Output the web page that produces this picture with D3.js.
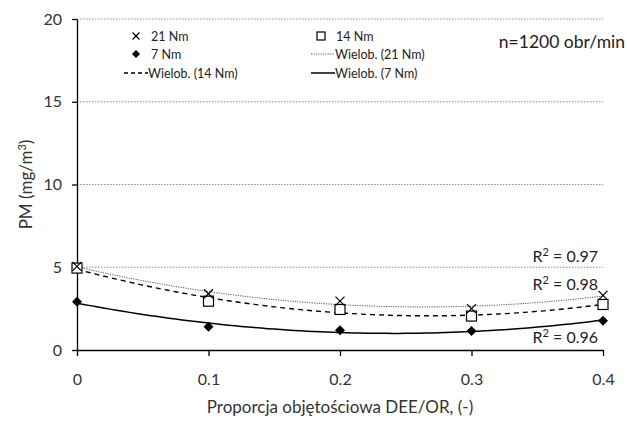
<!DOCTYPE html>
<html>
<head>
<meta charset="utf-8">
<script src="https://cdn.jsdelivr.net/npm/d3@7"></script>
<style>
  body { margin: 0; background: #fff; }
  svg { display: block; font-family: Lato, "Open Sans", sans-serif; }
</style>
</head>
<body>
<div id="chart"></div>
<script>
// dane
const proportions = [0, 0.1, 0.2, 0.3, 0.4];
const pm21 = [5.05, 3.4, 2.95, 2.5, 3.3];
const pm14 = [4.95, 2.95, 2.45, 2.05, 2.75];
const pm7 = [2.92, 1.4, 1.2, 1.15, 1.77];
const r2Labels = ['0.97', '0.98', '0.96'];
const xTicks = [0, 0.1, 0.2, 0.3, 0.4];
const yTicks = [0, 5, 10, 15, 20];

const width = 627;
const height = 423;
const margin = { top: 19, right: 24, bottom: 73, left: 77 };

const svg = d3.select('#chart').append('svg')
  .attr('width', width)
  .attr('height', height);

const xScale = d3.scaleLinear().domain([0, 0.4]).range([margin.left, width - margin.right]);
const yScale = d3.scaleLinear().domain([0, 20]).range([height - margin.bottom, margin.top]);

// linie siatki
svg.append('g')
  .selectAll('line')
  .data(yTicks.filter(d => d > 0))
  .join('line')
  .attr('x1', xScale(0))
  .attr('x2', xScale(0.4))
  .attr('y1', d => yScale(d))
  .attr('y2', d => yScale(d))
  .attr('stroke', '#8c8c8c')
  .attr('stroke-width', 1)
  .attr('stroke-dasharray', '1.5,1.5');

// osie
const axisX = svg.append('g')
  .attr('transform', 'translate(0,' + yScale(0) + ')')
  .call(d3.axisBottom(xScale).tickValues(xTicks).tickSize(6).tickSizeOuter(0).tickFormat(d => d === 0 ? '0' : d3.format('.1f')(d)));
const axisY = svg.append('g')
  .attr('transform', 'translate(' + xScale(0) + ',0)')
  .call(d3.axisLeft(yScale).tickValues(yTicks).tickSize(5).tickSizeOuter(0));

[axisX, axisY].forEach(function (g) {
  g.select('.domain').attr('stroke', '#000').attr('stroke-width', 1.3);
  g.selectAll('.tick line').attr('stroke', '#000').attr('stroke-width', 1.3);
  g.selectAll('.tick text')
    .attr('fill', '#333')
    .style('font-size', '16px')
    .style('font-family', 'Lato, "Open Sans", sans-serif');
});
axisX.selectAll('.tick text').attr('dy', '1.6em');
axisY.selectAll('.tick text').attr('x', -15);

// dopasowanie wielomianu 2 stopnia (metoda najmniejszych kwadratów)
function polyFit(xs, ys) {
  let s = [0, 0, 0, 0, 0];
  let t = [0, 0, 0];
  xs.forEach(function (x, i) {
    for (let k = 0; k < 5; k++) s[k] += Math.pow(x, k);
    for (let k = 0; k < 3; k++) t[k] += Math.pow(x, k) * ys[i];
  });
  const m = [
    [s[0], s[1], s[2], t[0]],
    [s[1], s[2], s[3], t[1]],
    [s[2], s[3], s[4], t[2]]
  ];
  for (let i = 0; i < 3; i++) {
    for (let j = i + 1; j < 3; j++) {
      const f = m[j][i] / m[i][i];
      for (let k = i; k < 4; k++) m[j][k] -= f * m[i][k];
    }
  }
  const c = [0, 0, 0];
  for (let i = 2; i >= 0; i--) {
    let v = m[i][3];
    for (let k = i + 1; k < 3; k++) v -= m[i][k] * c[k];
    c[i] = v / m[i][i];
  }
  return c;
}

const series = [
  { values: pm21, dash: '1.2,1.2', width: 1, color: '#555' },
  { values: pm14, dash: '5,4', width: 1.4, color: '#000' },
  { values: pm7, dash: null, width: 1.5, color: '#000' }
];

const line = d3.line().x(d => xScale(d[0])).y(d => yScale(d[1]));

series.forEach(function (s) {
  const c = polyFit(proportions, s.values);
  const pts = d3.range(0, 0.4001, 0.005).map(x => [x, c[0] + c[1] * x + c[2] * x * x]);
  svg.append('path')
    .datum(pts)
    .attr('fill', 'none')
    .attr('stroke', s.color)
    .attr('stroke-width', s.width)
    .attr('stroke-dasharray', s.dash)
    .attr('d', line);
});

// znaczniki
function drawCross(g, size) {
  g.append('path')
    .attr('d', 'M' + (-size) + ',' + (-size) + 'L' + size + ',' + size + 'M' + (-size) + ',' + size + 'L' + size + ',' + (-size))
    .attr('stroke', '#000').attr('stroke-width', 1.2).attr('fill', 'none');
}
function drawSquare(g, size) {
  g.append('rect')
    .attr('x', -size).attr('y', -size).attr('width', size * 2).attr('height', size * 2)
    .attr('fill', '#fff').attr('stroke', '#000').attr('stroke-width', 1.2);
}
function drawDiamond(g, size) {
  g.append('path')
    .attr('d', 'M0,' + (-size) + 'L' + size + ',0L0,' + size + 'L' + (-size) + ',0Z')
    .attr('fill', '#000');
}

svg.append('g').selectAll('g')
  .data(proportions.map((x, i) => [x, pm14[i]]))
  .join('g')
  .attr('transform', d => 'translate(' + xScale(d[0]) + ',' + yScale(d[1]) + ')')
  .each(function () { drawSquare(d3.select(this), 5); });

svg.append('g').selectAll('g')
  .data(proportions.map((x, i) => [x, pm21[i]]))
  .join('g')
  .attr('transform', d => 'translate(' + xScale(d[0]) + ',' + yScale(d[1]) + ')')
  .each(function () { drawCross(d3.select(this), 4.5); });

svg.append('g').selectAll('g')
  .data(proportions.map((x, i) => [x, pm7[i]]))
  .join('g')
  .attr('transform', d => 'translate(' + xScale(d[0]) + ',' + yScale(d[1]) + ')')
  .each(function () { drawDiamond(d3.select(this), 5); });

// legenda
const legend = svg.append('g').style('font-size', '12.5px').attr('fill', '#222');
const legendItems = [
  { x: 136, y: 36, text: '21 Nm', type: 'cross' },
  { x: 321, y: 36, text: '14 Nm', type: 'square' },
  { x: 136, y: 54, text: '7 Nm', type: 'diamond' },
  { x: 323, y: 54, text: 'Wielob. (21 Nm)', type: 'dotted' },
  { x: 136, y: 73, text: 'Wielob. (14 Nm)', type: 'dashed' },
  { x: 323, y: 73, text: 'Wielob. (7 Nm)', type: 'solid' }
];
legendItems.forEach(function (it) {
  const g = legend.append('g').attr('transform', 'translate(' + it.x + ',' + it.y + ')');
  let tx = 15;
  if (it.type === 'cross') drawCross(g, 3.5);
  if (it.type === 'square') drawSquare(g, 4);
  if (it.type === 'diamond') drawDiamond(g, 4);
  if (it.type === 'dotted' || it.type === 'dashed' || it.type === 'solid') {
    const s = series[it.type === 'dotted' ? 0 : it.type === 'dashed' ? 1 : 2];
    g.append('line')
      .attr('x1', -12).attr('x2', 12)
      .attr('stroke', s.color)
      .attr('stroke-width', s.width)
      .attr('stroke-dasharray', it.type === 'dashed' ? '4,3' : s.dash);
    tx = 12;
  }
  g.append('text').attr('x', tx).attr('y', 4.5).text(it.text);
});

// adnotacje
svg.append('text')
  .attr('x', 625).attr('y', 48)
  .attr('text-anchor', 'end')
  .style('font-size', '17.5px')
  .attr('fill', '#222')
  .text('n=1200 obr/min');

const r2Y = [262, 290, 343];
r2Labels.forEach(function (lbl, i) {
  const t = svg.append('text')
    .attr('x', 598).attr('y', r2Y[i])
    .attr('text-anchor', 'end')
    .style('font-size', '16px')
    .attr('fill', '#222');
  t.append('tspan').text('R');
  t.append('tspan').attr('dy', -6).style('font-size', '11px').text('2');
  t.append('tspan').attr('dy', 6).text(' = ' + lbl);
});

// tytuły osi
svg.append('text')
  .attr('x', (xScale(0) + xScale(0.4)) / 2)
  .attr('y', 413)
  .attr('text-anchor', 'middle')
  .style('font-size', '17px')
  .attr('fill', '#333')
  .text('Proporcja objętościowa DEE/OR, (-)');

const yTitle = svg.append('text')
  .attr('transform', 'translate(32,' + ((yScale(0) + yScale(20)) / 2) + ') rotate(-90)')
  .attr('text-anchor', 'middle')
  .style('font-size', '17px')
  .attr('fill', '#333');
yTitle.append('tspan').text('PM (mg/m');
yTitle.append('tspan').attr('dy', -6).style('font-size', '11px').text('3');
yTitle.append('tspan').attr('dy', 6).text(')');
</script>
</body>
</html>
